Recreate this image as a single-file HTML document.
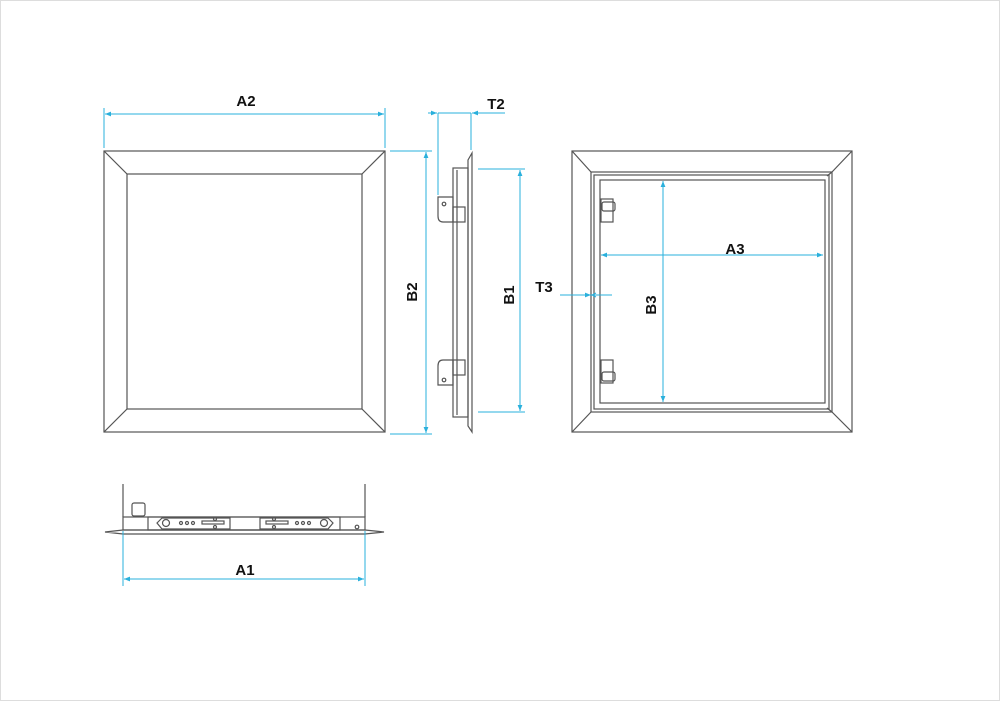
<!DOCTYPE html>
<html><head><meta charset="utf-8"><style>
html,body{margin:0;padding:0;background:#fff;}
svg{display:block}
text{font-family:"Liberation Sans",sans-serif;font-weight:bold;font-size:15px;fill:#111}
</style></head><body>
<svg width="1000" height="701" viewBox="0 0 1000 701" xmlns="http://www.w3.org/2000/svg">
<rect x="0.5" y="0.5" width="999" height="700" fill="none" stroke="#ddd"/>
<defs>
<marker id="a" viewBox="0 0 10 10" refX="10" refY="5" markerWidth="6" markerHeight="6" orient="auto-start-reverse"><path d="M0,1 L10,5 L0,9z" fill="#2ab0dc"/></marker>
</defs>
<g stroke="#555" stroke-width="1.2" fill="none">
<!-- front view -->
<rect x="104" y="151" width="281" height="281"/>
<rect x="127" y="174" width="235" height="235"/>
<line x1="104" y1="151" x2="127" y2="174"/><line x1="385" y1="151" x2="362" y2="174"/>
<line x1="104" y1="432" x2="127" y2="409"/><line x1="385" y1="432" x2="362" y2="409"/>
<!-- side view -->
<path d="M468,160 L472,153 L472,432 L468,426 Z"/>
<rect x="453" y="168" width="15" height="249"/>
<line x1="457" y1="170" x2="457" y2="415"/>
<path d="M438,197 H453 V222 H443 Q438,222 438,216 Z"/>
<rect x="453" y="207" width="12" height="15"/>
<circle cx="444" cy="204" r="1.8"/>
<path d="M438,385 H453 V360 H443 Q438,360 438,366 Z"/>
<rect x="453" y="360" width="12" height="15"/>
<circle cx="444" cy="380" r="1.8"/>
<!-- right view -->
<rect x="572" y="151" width="280" height="281"/>
<rect x="591" y="172" width="241" height="240"/>
<rect x="594" y="175" width="235" height="234"/>
<rect x="600" y="180" width="225" height="223"/>
<line x1="572" y1="151" x2="591" y2="172"/><line x1="852" y1="151" x2="832" y2="172"/>
<line x1="572" y1="432" x2="591" y2="412"/><line x1="852" y1="432" x2="832" y2="412"/>
<line x1="827" y1="176" x2="832" y2="172"/><line x1="827" y1="408" x2="832" y2="412"/>
<rect x="601" y="199" width="12" height="23"/><rect x="602" y="202" width="13" height="9" rx="2"/>
<rect x="601" y="360" width="12" height="23"/><rect x="602" y="372" width="13" height="9" rx="2"/>
<!-- bottom view -->
<path d="M105,532 L123,530 H365 L384,532 L365,534 H123 Z"/>
<rect x="123" y="517" width="242" height="13"/>
<line x1="123" y1="484" x2="123" y2="517"/><line x1="365" y1="484" x2="365" y2="517"/>
<rect x="148" y="517" width="192" height="13"/>
<rect x="132" y="503" width="13" height="13" rx="2"/>
<path d="M162,518 L157,523 L162,529 H230 V518 Z"/>
<path d="M328,518 L333,523 L328,529 H260 V518 Z"/>
<circle cx="166" cy="523" r="3.5"/><circle cx="324" cy="523" r="3.5"/>
<circle cx="181" cy="523" r="1.5"/><circle cx="187" cy="523" r="1.5"/><circle cx="193" cy="523" r="1.5"/>
<circle cx="297" cy="523" r="1.5"/><circle cx="303" cy="523" r="1.5"/><circle cx="309" cy="523" r="1.5"/>
<rect x="202" y="521" width="22" height="3"/><rect x="266" y="521" width="22" height="3"/>
<circle cx="215" cy="519" r="1.5"/><circle cx="215" cy="527" r="1.5"/>
<circle cx="274" cy="519" r="1.5"/><circle cx="274" cy="527" r="1.5"/>
<circle cx="357" cy="527" r="1.8"/>
</g>
<g stroke="#2ab0dc" stroke-width="1" fill="none">
<!-- A2 -->
<line x1="104" y1="108" x2="104" y2="148"/><line x1="385" y1="108" x2="385" y2="148"/>
<line x1="105" y1="114" x2="384" y2="114" marker-start="url(#a)" marker-end="url(#a)"/>
<!-- B2 -->
<line x1="390" y1="151" x2="432" y2="151"/><line x1="390" y1="434" x2="432" y2="434"/>
<line x1="426" y1="152" x2="426" y2="433" marker-start="url(#a)" marker-end="url(#a)"/>
<!-- T2 -->
<line x1="438" y1="113" x2="438" y2="195"/><line x1="471" y1="113" x2="471" y2="150"/>
<line x1="428" y1="113" x2="437" y2="113" marker-end="url(#a)"/>
<line x1="505" y1="113" x2="472" y2="113" marker-end="url(#a)"/>
<line x1="438" y1="113" x2="471" y2="113"/>
<!-- B1 -->
<line x1="478" y1="169" x2="525" y2="169"/><line x1="478" y1="412" x2="525" y2="412"/>
<line x1="520" y1="170" x2="520" y2="411" marker-start="url(#a)" marker-end="url(#a)"/>
<!-- A3 -->
<line x1="601" y1="255" x2="823" y2="255" marker-start="url(#a)" marker-end="url(#a)"/>
<!-- B3 -->
<line x1="663" y1="181" x2="663" y2="402" marker-start="url(#a)" marker-end="url(#a)"/>
<!-- T3 -->
<line x1="560" y1="295" x2="591" y2="295" marker-end="url(#a)"/>
<line x1="591" y1="295" x2="612" y2="295"/>
<path d="M596,293 L592,295 L596,297" />
<!-- A1 -->
<line x1="123" y1="531" x2="123" y2="586"/><line x1="365" y1="531" x2="365" y2="586"/>
<line x1="124" y1="579" x2="364" y2="579" marker-start="url(#a)" marker-end="url(#a)"/>
</g>
<text x="246" y="106" text-anchor="middle">A2</text>
<text x="496" y="109" text-anchor="middle">T2</text>
<text x="735" y="254" text-anchor="middle">A3</text>
<text x="544" y="292" text-anchor="middle">T3</text>
<text x="245" y="575" text-anchor="middle">A1</text>
<text transform="translate(417,292) rotate(-90)" text-anchor="middle">B2</text>
<text transform="translate(514,295) rotate(-90)" text-anchor="middle">B1</text>
<text transform="translate(656,305) rotate(-90)" text-anchor="middle">B3</text>
</svg>
</body></html>
